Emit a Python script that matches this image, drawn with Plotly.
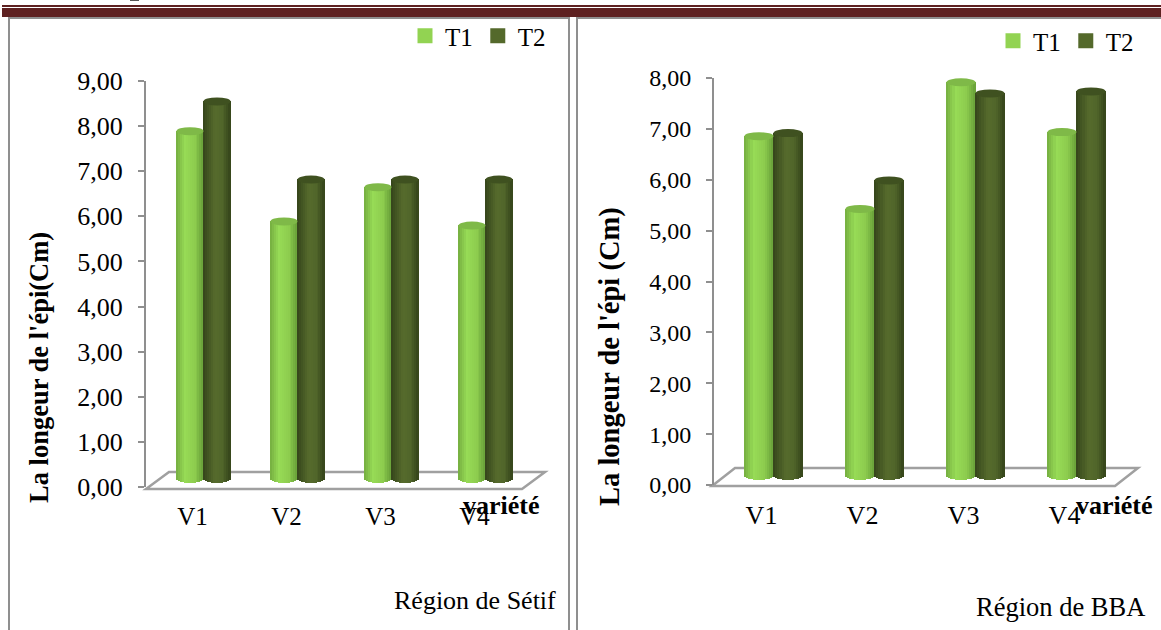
import plotly.graph_objects as go
import math

W, H = 1161, 630

varieties = ["V1", "V2", "V3", "V4"]
setif_t1 = [7.71, 5.71, 6.47, 5.62]
setif_t2 = [8.37, 6.64, 6.64, 6.64]
bba_t1 = [6.68, 5.25, 7.74, 6.76]
bba_t2 = [6.74, 5.81, 7.52, 7.56]
setif_ticks = [0, 1, 2, 3, 4, 5, 6, 7, 8, 9]
bba_ticks = [0, 1, 2, 3, 4, 5, 6, 7, 8]

GREY = "#8f8f8f"
INK = "#000000"
SERIF = "Liberation Serif, Times New Roman, serif"
GREEN_STOPS = [(0.0, "#74ad40"), (0.32, "#97db56"), (0.7, "#8ccb4e"), (1.0, "#68a038")]
DARK_STOPS = [(0.0, "#34441a"), (0.42, "#566b2c"), (0.72, "#50652a"), (1.0, "#34441a")]
N_SLICES = 14


def px(x):
    return x / W


def py(y):
    return 1 - y / H


def shade(stops, t):
    for (t0, c0), (t1, c1) in zip(stops, stops[1:]):
        if t <= t1:
            f = (t - t0) / (t1 - t0)
            rgb = [round(int(c0[i:i + 2], 16) * (1 - f) + int(c1[i:i + 2], 16) * f) for i in (1, 3, 5)]
            return "rgb(%d,%d,%d)" % tuple(rgb)
    return stops[-1][1]


fig = go.Figure()
shapes = []
annotations = []


def panel(suffix, legend_id, t1, t2, ticks, ax_left, ax_right, y_top, y_zero, top_value,
          centers_px, half_px, bar_floor_px, cap_ry, tick_size, cat_size, label_shift, standoff, y_standoff):
    xname = "x" + suffix
    yname = "y" + suffix
    spacing = centers_px[1] - centers_px[0]
    x_lo = (ax_left - centers_px[0]) / spacing
    x_hi = (ax_right - centers_px[0]) / spacing
    scale = (y_zero - y_top) / top_value
    floor_val = (y_zero - bar_floor_px) / scale
    half = half_px / spacing
    ry = cap_ry / scale
    positions = list(range(len(varieties)))

    for side, values, stops, name, cap in (
        (-1, t1, GREEN_STOPS, "T1", "#7fb948"),
        (1, t2, DARK_STOPS, "T2", "#3f5120"),
    ):
        slice_w = 2 * half / N_SLICES
        for i in range(N_SLICES):
            t = (i + 0.5) / N_SLICES
            u = 2 * t - 1
            bulge = math.sqrt(1 - u * u) * ry
            fig.add_trace(go.Bar(
                x=[p + side * half + u * half for p in positions],
                y=[v + bulge for v in values],
                base=floor_val - bulge,
                width=slice_w * 1.25,
                marker=dict(color=shade(stops, t), line=dict(width=0)),
                xaxis=xname, yaxis=yname, hoverinfo="skip",
                name=name, legend=legend_id, showlegend=False,
            ))
        # Legend swatch in the flat colour of the series
        fig.add_trace(go.Scatter(
            x=[None], y=[None], name=name, legend=legend_id, showlegend=True, mode="markers",
            marker=dict(color=shade(stops, 0.5), symbol="square", size=15), xaxis=xname, yaxis=yname,
        ))
        for p, v in zip(positions, values):
            cx = p + side * half
            shapes.append(dict(
                type="circle", xref=xname, yref=yname, layer="above",
                x0=cx - half, x1=cx + half,
                y0=floor_val + v - ry, y1=floor_val + v + ry,
                fillcolor=cap, line=dict(width=0),
            ))

    axis_x = dict(
        domain=[px(ax_left), px(ax_right)], range=[x_lo, x_hi], anchor=yname,
        tickvals=[p - label_shift / spacing for p in positions], ticktext=varieties,
        showline=False, showgrid=False, zeroline=False, ticks="",
        tickfont=dict(family=SERIF, size=cat_size, color=INK), ticklabelstandoff=standoff,
    )
    axis_y = dict(
        domain=[py(y_zero), py(y_top)], range=[0, top_value], anchor=xname,
        tickvals=ticks, tickformat=".2f",
        showline=True, linecolor=GREY, linewidth=2, ticks="outside", ticklen=6,
        tickcolor=GREY, tickwidth=2, showgrid=False, zeroline=False,
        tickfont=dict(family=SERIF, size=tick_size, color=INK), ticklabelstandoff=y_standoff,
    )
    return axis_x, axis_y


def floor(x_front_l, x_front_r, x_back_l, x_back_r, y_front, y_back):
    path = "M %f %f L %f %f L %f %f L %f %f Z" % (
        px(x_front_l), py(y_front), px(x_front_r), py(y_front),
        px(x_back_r), py(y_back), px(x_back_l), py(y_back))
    return dict(type="path", xref="paper", yref="paper", path=path, layer="below",
                line=dict(color="#a0a0a0", width=2.5), fillcolor="rgba(0,0,0,0)")


def rule(x0, y0, x1, y1, color=GREY, width=2):
    return dict(type="line", xref="paper", yref="paper", x0=px(x0), y0=py(y0), x1=px(x1), y1=py(y1),
                line=dict(color=color, width=width), layer="below")


def label(text, x, y, size, bold=False, angle=0):
    annotations.append(dict(
        text="<b>%s</b>" % text if bold else text, xref="paper", yref="paper", x=px(x), y=py(y),
        xanchor="center", yanchor="middle", showarrow=False, textangle=angle,
        font=dict(family=SERIF, size=size, color=INK),
    ))


xa1, ya1 = panel("", "legend", setif_t1, setif_t2, setif_ticks, 146, 522, 81, 487, 9,
                 [203.5, 297.5, 391.5, 485.5], 13.5, 479, 4, 26, 25, 11, 12, 10)
xa2, ya2 = panel("2", "legend2", bba_t1, bba_t2, bba_ticks, 714, 1115, 78, 485, 8,
                 [773.5, 874.5, 974.5, 1075.5], 14.5, 476, 4, 24, 26, 12, 12, 10)

shapes += [
    floor(146, 522, 169, 545, 489, 472),
    floor(712, 1115, 735, 1138, 486, 468),
    # Page header rules and the clipped stroke above them
    dict(type="rect", xref="paper", yref="paper", x0=px(2), x1=1, y0=py(17), y1=py(8),
         fillcolor="#5e2121", line=dict(width=0)),
    rule(2, 6, W, 6, "#5e2121", 2),
    rule(130, 0.5, 139, 0.5, "#555555", 1),
    # Panel frames
    rule(9, 17, 9, H), rule(9, 18, 569, 18), rule(569, 17, 569, H),
    rule(577, 17, 577, H), rule(577, 18, W, 18),
]

label("La longeur de l'épi(Cm)", 39, 368, 26.5, bold=True, angle=-90)
label("La longeur de l'épi (Cm)", 610, 357, 28.5, bold=True, angle=-90)
label("variété", 501, 505, 26, bold=True)
label("variété", 1114, 505, 26, bold=True)
label("Région de Sétif", 475, 600, 26)
label("Région de BBA", 1060, 607, 26.5)

legend_style = dict(
    orientation="h", xanchor="left", yanchor="middle", bgcolor="rgba(0,0,0,0)",
    font=dict(family=SERIF, size=25, color=INK), itemwidth=30, itemclick=False,
    tracegroupgap=0,
)

fig.update_layout(
    width=W, height=H, margin=dict(l=0, r=0, t=0, b=0, autoexpand=False), autosize=False,
    paper_bgcolor="white", plot_bgcolor="rgba(0,0,0,0)", barmode="overlay", bargap=0,
    separators=", ", shapes=shapes, annotations=annotations,
    xaxis=xa1, yaxis=ya1, xaxis2=xa2, yaxis2=ya2,
    legend=dict(x=px(405), y=py(36), **legend_style),
    legend2=dict(x=px(993), y=py(41), **legend_style),
)

fig.write_html("out.html")
